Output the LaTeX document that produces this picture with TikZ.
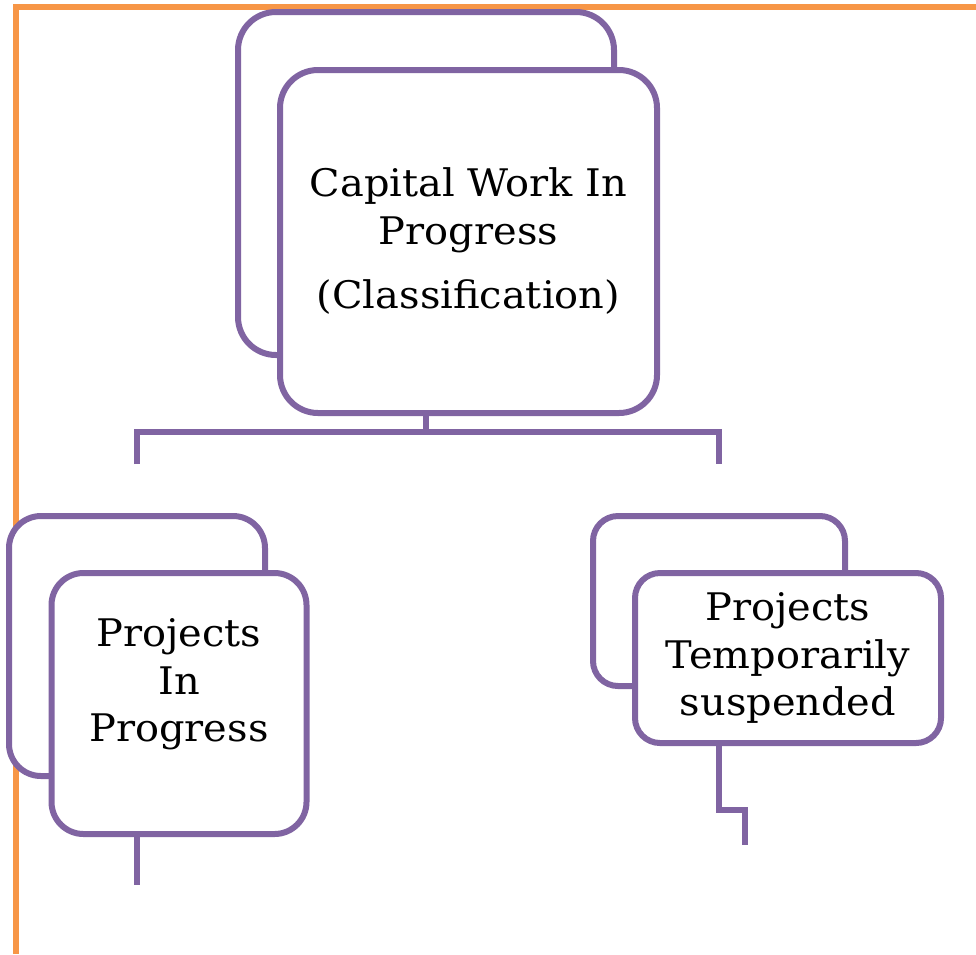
\documentclass[tikz,border=0pt]{standalone}
\usepackage{fontspec}
\newfontfamily\boxfont{DejaVu Serif}[FakeStretch=1.05]
\definecolor{cwpurple}{HTML}{8064A2}
\definecolor{cworange}{HTML}{F79646}
\begin{document}
\begin{tikzpicture}[x=1pt,y=-1pt,
  cwbox/.style={draw=cwpurple, line width=6pt, fill=white, rounded corners=#1,
    inner sep=0pt, align=center, font=\boxfont\fontsize{38}{47.5}\selectfont},
  cwline/.style={draw=cwpurple, line width=6pt},
  cwframe/.style={draw=cworange, line width=6pt}]
\useasboundingbox (0,0) rectangle (976,954);
% orange frame
\coordinate (fa) at (976,6.5);
\coordinate (fb) at (15.5,6.5);
\coordinate (fc) at (15.5,954);
\draw[cwframe] (fa) -- (fb) -- (fc);
% top
\node[cwbox=38pt, minimum width=376pt, minimum height=343pt] (topback) at (426,183.5) {};
\node[cwbox=38pt, minimum width=377pt, minimum height=343pt] (topfront) at (468.5,241.5)
  {Capital Work In\\Progress\\[17pt](Classification)};
% left child
\node[cwbox=32pt, minimum width=256pt, minimum height=260pt] (lback) at (137,646) {};
\node[cwbox=32pt, minimum width=255pt, minimum height=261pt] (lfront) at (179,703.5)
  {\raisebox{19pt}[\height][\depth]{\begin{tabular}{@{}c@{}}Projects\\In\\Progress\end{tabular}}};
% right child
\node[cwbox=25pt, minimum width=252pt, minimum height=170pt] (rback) at (719,601) {};
\node[cwbox=25pt, minimum width=306pt, minimum height=170pt] (rfront) at (788,658)
  {Projects\\Temporarily\\suspended};
% connectors
\coordinate (stem) at (topback.center |- topfront.south);
\coordinate (bar) at (426,432);
\coordinate (lend) at (137,464);
\coordinate (rend) at (719,464);
\draw[cwline] (stem) -- (bar);
\draw[cwline, line join=miter] (lend) |- (bar) -| (rend);
\coordinate (ltail) at (137,885);
\draw[cwline] (lback.center |- lfront.south) -- (ltail);
\coordinate (rstep) at (745,810);
\coordinate (rtail) at (745,845);
\draw[cwline] (rback.center |- rfront.south) |- (rstep) -- (rtail);
\end{tikzpicture}
\end{document}
